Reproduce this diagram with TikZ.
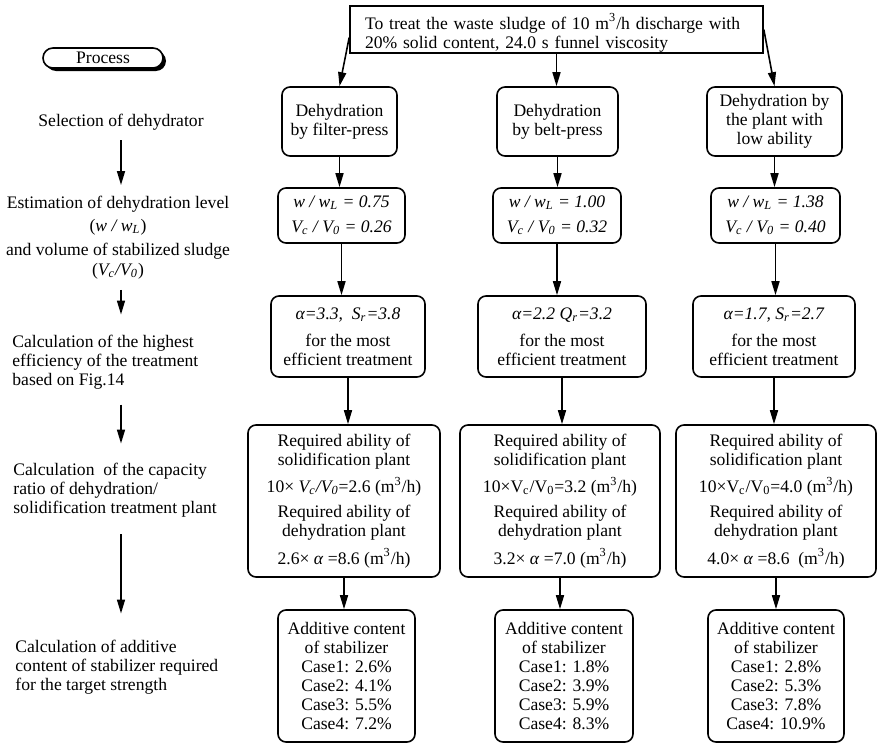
\documentclass[tikz,border=0pt]{standalone}
\usepackage{fontspec}
\setmainfont{Liberation Serif}
\usepackage{tikz}
\usetikzlibrary{arrows.meta,shadows}

\begin{document}
\begin{tikzpicture}[x=0.5pt,y=-0.5pt,
	font=\fontsize{8.8}{9.5}\selectfont,
	box/.style={draw, rounded corners=4pt, line width=0.8pt, align=center, inner sep=0pt},
	lbl/.style={inner sep=0pt, align=center},
	arr/.style={line width=0.8pt, -{Triangle[length=7pt,width=4pt]}}]
		\useasboundingbox (0,0) rectangle (878,744);
		\node[draw, line width=0.8pt, align=left, text width=191.5pt, inner xsep=7.5pt, inner ysep=0pt, minimum height=23.5pt] (sludge) at (556.5,29.5) {\rule{0pt}{11pt}To treat the waste sludge of 10 m\textsuperscript{3}/h discharge with\\20\% solid content, 24.0 s funnel viscosity};
		\node[draw, line width=0.8pt, rounded corners=5pt, minimum width=60pt, minimum height=10pt, inner sep=0pt, fill=white, drop shadow={shadow xshift=1.5pt, shadow yshift=-1.5pt, opacity=1, fill=black}] (proc) at (103,58) {Process};
		\node[lbl] (sel) at (121,122) {Selection of dehydrator};
		\node[lbl] (est) at (118,238) {Estimation of dehydration level\\[2pt](\textit{w / w\textsubscript{L}})\\[2.5pt]and volume of stabilized sludge\\[0.5pt](\textit{V\textsubscript{c}/V\textsubscript{0}})};
		\node[lbl, align=left, anchor=west] (high) at (12,362) {Calculation of the highest\\efficiency of the treatment\\based on Fig.14};
		\node[lbl, align=left, anchor=west] (cap) at (13,490) {Calculation\ \ of the capacity\\ratio of dehydration/\\solidification treatment plant};
		\node[lbl, align=left, anchor=west] (add) at (15,667) {Calculation of additive\\content of stabilizer required\\for the target strength};
		\draw[arr, shorten <=5pt, shorten >=5.5pt] (sel.south) -- (sel.south |- est.north);
		\draw[arr, shorten <=5pt, shorten >=10pt] (est.south -| sel.south) -- (high.north -| sel.south);
		\draw[arr, shorten <=7.5pt, shorten >=9.5pt] (high.south -| sel.south) -- (cap.north -| sel.south);
		\draw[arr, shorten <=8.5pt, shorten >=13pt] (cap.south -| sel.south) -- (add.north -| sel.south);
		\node[box, minimum width=57.5pt, minimum height=34.5pt] (dfp) at (339.5,121.5) {Dehydration\\by filter-press};
		\node[box, minimum width=60.5pt, minimum height=34.5pt] (dbp) at (557.5,121.5) {Dehydration\\by belt-press};
		\node[box, minimum width=67.5pt, minimum height=34.5pt] (dlp) at (774.5,121.5) {Dehydration by\\the plant with\\low ability};
		\node[box, minimum width=63.5pt, minimum height=27.5pt] (wfp) at (341.5,215.5) {\textit{w / w\textsubscript{L} = 0.75}\\[3pt]\textit{V\textsubscript{c} / V\textsubscript{0} = 0.26}};
		\node[box, minimum width=64pt, minimum height=27.5pt] (wbp) at (557,215.5) {\textit{w / w\textsubscript{L} = 1.00}\\[3pt]\textit{V\textsubscript{c} / V\textsubscript{0} = 0.32}};
		\node[box, minimum width=64.5pt, minimum height=27.5pt] (wlp) at (775.5,215.5) {\textit{w / w\textsubscript{L} = 1.38}\\[3pt]\textit{V\textsubscript{c} / V\textsubscript{0} = 0.40}};
		\node[box, minimum width=77pt, minimum height=40.5pt] (afp) at (348,336.5) {\textit{α=3.3,\ \ S\textsubscript{r}=3.8}\\[4pt]for the most\\efficient treatment};
		\node[box, minimum width=84pt, minimum height=40.5pt] (abp) at (562,336.5) {\textit{α=2.2\ Q\textsubscript{r}=3.2}\\[4pt]for the most\\efficient treatment};
		\node[box, minimum width=81pt, minimum height=40.5pt] (alp) at (774,336.5) {\textit{α=1.7, S\textsubscript{r}=2.7}\\[4pt]for the most\\efficient treatment};
		\node[box, minimum width=96pt, minimum height=76pt] (rfp) at (344,501) {Required ability of\\solidification plant\\[3pt]10× \textit{V\textsubscript{c}/V\textsubscript{0}}=2.6 (m\textsuperscript{3}/h)\\[3pt]Required ability of\\dehydration plant\\[3pt]2.6× \textit{α} =8.6 (m\textsuperscript{3}/h)};
		\node[box, minimum width=100pt, minimum height=76pt] (rbp) at (560,501) {Required ability of\\solidification plant\\[3pt]10×V\textsubscript{c}/V\textsubscript{0}=3.2 (m\textsuperscript{3}/h)\\[3pt]Required ability of\\dehydration plant\\[3pt]3.2× \textit{α} =7.0 (m\textsuperscript{3}/h)};
		\node[box, minimum width=100pt, minimum height=76pt] (rlp) at (776,501) {Required ability of\\solidification plant\\[3pt]10×V\textsubscript{c}/V\textsubscript{0}=4.0 (m\textsuperscript{3}/h)\\[3pt]Required ability of\\dehydration plant\\[3pt]4.0× \textit{α} =8.6\ \ (m\textsuperscript{3}/h)};
		\node[box, minimum width=68.5pt, minimum height=66pt] (sfp) at (346.5,676) {Additive content\\of stabilizer\\Case1: 2.6\%\\Case2: 4.1\%\\Case3: 5.5\%\\Case4: 7.2\%};
		\node[box, minimum width=69pt, minimum height=66pt] (sbp) at (564,676) {Additive content\\of stabilizer\\Case1: 1.8\%\\Case2: 3.9\%\\Case3: 5.9\%\\Case4: 8.3\%};
		\node[box, minimum width=68pt, minimum height=66pt] (slp) at (776,676) {Additive content\\of stabilizer\\Case1: 2.8\%\\Case2: 5.3\%\\Case3: 7.8\%\\Case4: 10.9\%};
		\draw[arr] ([yshift=-4pt]sludge.west) -- (dfp.north);
		\draw[arr] (sludge.south) -- (sludge.south |- dbp.north);
		\draw[arr] (sludge.east) -- (dlp.north);
		\draw[arr] (dfp.south) -- (dfp.south |- wfp.north);
		\draw[arr] (dbp.south) -- (dbp.south |- wbp.north);
		\draw[arr] (dlp.south) -- (dlp.south |- wlp.north);
		\draw[arr] (wfp.south) -- (wfp.south |- afp.north);
		\draw[arr] (wbp.south) -- (wbp.south |- abp.north);
		\draw[arr] (wlp.south) -- (wlp.south |- alp.north);
		\draw[arr] (afp.south) -- (afp.south |- rfp.north);
		\draw[arr] (abp.south) -- (abp.south |- rbp.north);
		\draw[arr] (alp.south) -- (alp.south |- rlp.north);
		\draw[arr] (rfp.south) -- (rfp.south |- sfp.north);
		\draw[arr] (rbp.south) -- (rbp.south |- sbp.north);
		\draw[arr] (rlp.south) -- (rlp.south |- slp.north);
	\end{tikzpicture}
\end{document}
